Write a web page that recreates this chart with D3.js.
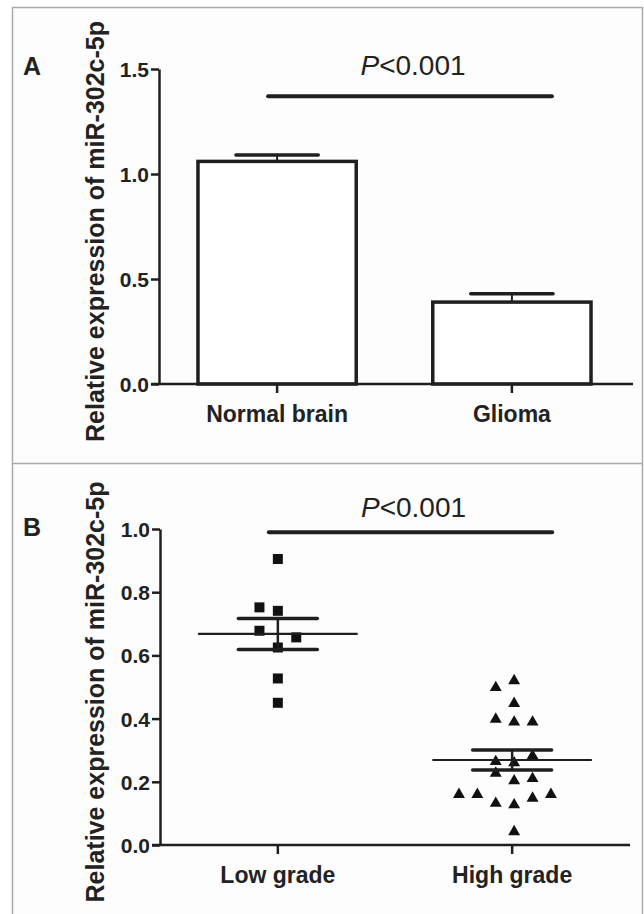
<!DOCTYPE html>
<html>
<head>
<meta charset="utf-8">
<script src="https://cdn.jsdelivr.net/npm/d3@7"></script>
<style>
  html, body { margin: 0; padding: 0; background: #ffffff; }
  svg { display: block; }
  text { font-family: "Liberation Sans", Arial, Helvetica, sans-serif; fill: #222; }
</style>
</head>
<body>
<svg id="chart" width="644" height="914"></svg>
<script>
// ---------- Data ----------
// Panel A: bar chart, mean ± SEM
const catsA = ["Normal brain", "Glioma"];
const meanA = [1.06, 0.39];
const errA = [0.03, 0.04];
const ticksA = [0, 0.5, 1.0, 1.5];
const sigLineA = 1.37;     // y-value of the significance bar
const pLabelA = "<0.001";

// Panel B: scatter of individual samples with mean ± SEM
const catsB = ["Low grade", "High grade"];
const lowVals  = [0.905, 0.752, 0.741, 0.678, 0.657, 0.625, 0.527, 0.450];
const lowSlot  = [0, -1, 0, -1, 1, 0, 0, 0];
const highVals = [0.520, 0.498, 0.448, 0.398, 0.389, 0.389, 0.282, 0.264, 0.260, 0.227,
                  0.203, 0.210, 0.160, 0.160, 0.160, 0.132, 0.127, 0.148, 0.042];
const highSlot = [0, -1, 0, -1, 0, 1, 1, -1, 0, -1, 0, 1, -3, -2, 2, -1, 0, 1, 0];
const meanB = [0.668, 0.269];
const semB = [0.049, 0.032];
const ticksB = [0, 0.2, 0.4, 0.6, 0.8, 1.0];
const sigLineB = 0.99;
const pLabelB = "<0.001";

const yTitle = "Relative expression of miR-302c-5p";

// ---------- Drawing ----------
const svg = d3.select("#chart");
const ink = "#1f1f1f";

// frame
svg.append("rect").attr("x", 12.5).attr("y", 7.5).attr("width", 630).attr("height", 920)
  .attr("fill", "#fdfdfd").attr("stroke", "#aaaaaa").attr("stroke-width", 1.5);
svg.append("line").attr("x1", 12.5).attr("x2", 642.5).attr("y1", 463.5).attr("y2", 463.5)
  .attr("stroke", "#aaaaaa").attr("stroke-width", 1.5);

function axes(g, x, y, ticks, axisRight, letter, letterY) {
  const y0 = y(0);
  const yTop = y(ticks[ticks.length - 1]);
  // y axis
  const ya = d3.axisLeft(y).tickValues(ticks).tickFormat(d3.format(".1f"))
    .tickSize(8).tickSizeOuter(0).tickPadding(2);
  const gy = g.append("g").attr("transform", `translate(${x.range()[0]},0)`).call(ya);
  gy.select(".domain").attr("stroke", ink).attr("stroke-width", 2.5);
  gy.selectAll(".tick line").attr("stroke", ink).attr("stroke-width", 2.5);
  gy.selectAll(".tick text").attr("font-size", 21).attr("font-weight", "bold")
    .attr("fill", "#222").attr("dy", "0.36em");
  // x axis
  const xa = d3.axisBottom(x).tickSize(9).tickSizeOuter(0).tickPadding(7);
  const gx = g.append("g").attr("transform", `translate(${x.bandwidth() / 2 * 0},${y0})`).call(xa);
  gx.select(".domain").remove();
  gx.selectAll(".tick line").attr("stroke", ink).attr("stroke-width", 2.5);
  gx.selectAll(".tick text").attr("font-size", 23).attr("font-weight", "bold")
    .attr("fill", "#222").attr("dy", "0.95em");
  g.append("line").attr("x1", x.range()[0] - 8).attr("x2", axisRight)
    .attr("y1", y0).attr("y2", y0).attr("stroke", ink).attr("stroke-width", 2.5);
  // y title
  const cy = (y0 + yTop) / 2 + 5;
  g.append("text").attr("transform", `translate(104,${cy}) rotate(-90)`)
    .attr("text-anchor", "middle").attr("font-size", 25).attr("font-weight", "bold")
    .text(yTitle);
  // panel letter
  g.append("text").attr("x", 23).attr("y", letterY).attr("font-size", 25)
    .attr("font-weight", "bold").text(letter);
}

function sig(g, x, y, val, label, cats, textGap) {
  const x1 = x(cats[0]) + x.bandwidth() / 2 - 9;
  const x2 = x(cats[1]) + x.bandwidth() / 2 + 40;
  g.append("line").attr("x1", x1).attr("x2", x2).attr("y1", y(val)).attr("y2", y(val))
    .attr("stroke", ink).attr("stroke-width", 4).attr("stroke-linecap", "round");
  const t = g.append("text").attr("x", (x1 + x2) / 2 + 3).attr("y", y(val) - textGap)
    .attr("text-anchor", "middle").attr("font-size", 28);
  t.append("tspan").attr("font-style", "italic").text("P");
  t.append("tspan").text(label);
}

// ----- Panel A -----
const gA = svg.append("g");
const xA = d3.scaleBand().domain(catsA).range([159, 630]).paddingInner(0.326).paddingOuter(0.166);
const yA = d3.scaleLinear().domain([0, 1.5]).range([384, 69]);

const barsA = catsA.map((c, i) => ({ c, m: meanA[i], e: errA[i] }));
// error bars (behind bar top)
gA.selectAll(".errv").data(barsA).join("line")
  .attr("x1", d => xA(d.c) + xA.bandwidth() / 2).attr("x2", d => xA(d.c) + xA.bandwidth() / 2)
  .attr("y1", d => yA(d.m)).attr("y2", d => yA(d.m + d.e))
  .attr("stroke", ink).attr("stroke-width", 2);
gA.selectAll(".errc").data(barsA).join("line")
  .attr("x1", d => xA(d.c) + xA.bandwidth() * 0.24).attr("x2", d => xA(d.c) + xA.bandwidth() * 0.76)
  .attr("y1", d => yA(d.m + d.e)).attr("y2", d => yA(d.m + d.e))
  .attr("stroke", ink).attr("stroke-width", 3.5).attr("stroke-linecap", "round");
gA.selectAll(".bar").data(barsA).join("rect")
  .attr("x", d => xA(d.c)).attr("width", xA.bandwidth())
  .attr("y", d => yA(d.m)).attr("height", d => yA(0) - yA(d.m))
  .attr("fill", "#ffffff").attr("stroke", ink).attr("stroke-width", 3.5);
axes(gA, xA, yA, ticksA, 633, "A", 75);
sig(gA, xA, yA, sigLineA, pLabelA, catsA, 21);

// ----- Panel B -----
const gB = svg.append("g");
const xB = d3.scaleBand().domain(catsB).range([160, 630]).paddingInner(0.326).paddingOuter(0.166);
const yB = d3.scaleLinear().domain([0, 1.0]).range([845, 529]);
const slotW = 18.4;
const cxB = c => xB(c) + xB.bandwidth() / 2;

axes(gB, xB, yB, ticksB, 630, "B", 536);

const lowPts = lowVals.map((v, i) => ({ v, s: lowSlot[i] }));
const highPts = highVals.map((v, i) => ({ v, s: highSlot[i] }));

gB.selectAll(".sq").data(lowPts).join("path")
  .attr("d", d3.symbol(d3.symbolSquare, 100))
  .attr("transform", d => `translate(${cxB(catsB[0]) + d.s * slotW},${yB(d.v)})`)
  .attr("fill", "#111");
gB.selectAll(".tri").data(highPts).join("path")
  .attr("d", d3.symbol(d3.symbolTriangle, 62))
  .attr("transform", d => `translate(${cxB(catsB[1]) + 2 + d.s * slotW},${yB(d.v)})`)
  .attr("fill", "#111");

const statsB = catsB.map((c, i) => ({ c, m: meanB[i], e: semB[i] }));
// mean line
gB.selectAll(".mean").data(statsB).join("line")
  .attr("x1", d => xB(d.c)).attr("x2", d => xB(d.c) + xB.bandwidth())
  .attr("y1", d => yB(d.m)).attr("y2", d => yB(d.m))
  .attr("stroke", ink).attr("stroke-width", 2.2).attr("stroke-linecap", "round");
// SEM lines
["hi", "lo"].forEach(k => {
  gB.selectAll(".sem" + k).data(statsB).join("line")
    .attr("x1", d => xB(d.c) + xB.bandwidth() * 0.25).attr("x2", d => xB(d.c) + xB.bandwidth() * 0.75)
    .attr("y1", d => yB(k === "hi" ? d.m + d.e : d.m - d.e))
    .attr("y2", d => yB(k === "hi" ? d.m + d.e : d.m - d.e))
    .attr("stroke", ink).attr("stroke-width", 3.5).attr("stroke-linecap", "round");
});
gB.selectAll(".semv").data(statsB).join("line")
  .attr("x1", d => cxB(d.c)).attr("x2", d => cxB(d.c))
  .attr("y1", d => yB(d.m + d.e)).attr("y2", d => yB(d.m - d.e))
  .attr("stroke", ink).attr("stroke-width", 2.5);

sig(gB, xB, yB, sigLineB, pLabelB, catsB, 15);
</script>
</body>
</html>
